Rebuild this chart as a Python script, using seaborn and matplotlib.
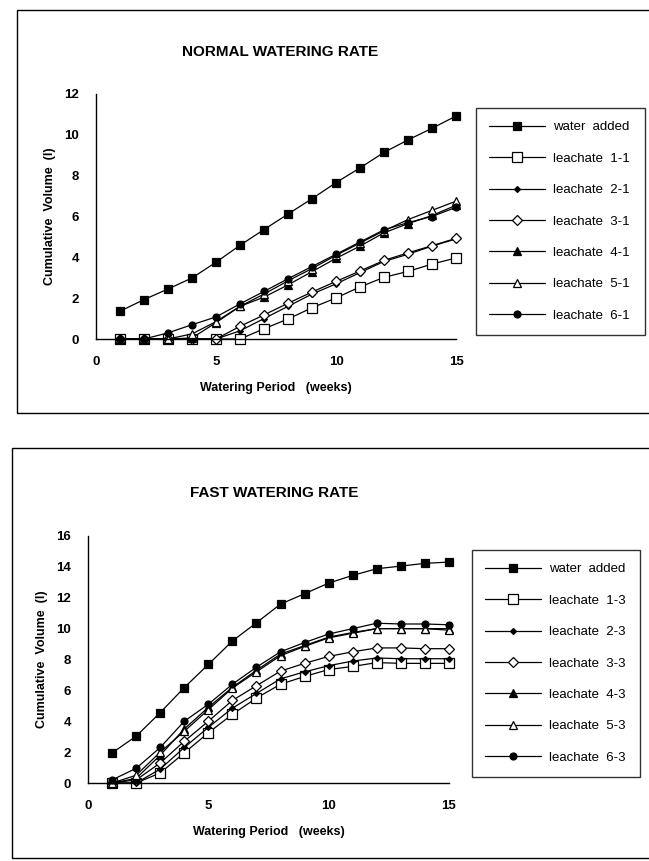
import numpy as np
import pandas as pd
import seaborn as sns
import matplotlib.pyplot as plt
from matplotlib.patches import Rectangle

weeks = list(range(1, 16))

# normal watering rate (l)
normal_water = [1.36, 1.93, 2.45, 2.99, 3.76, 4.59, 5.36, 6.12, 6.87, 7.66, 8.38, 9.14, 9.75, 10.32, 10.92]
normal_l1 = [0, 0, 0, 0, 0, 0, 0.5, 0.98, 1.53, 2.01, 2.55, 3.02, 3.31, 3.67, 3.97]
normal_l2 = [0, 0, 0, 0, 0, 0.4, 1.0, 1.6, 2.2, 2.7, 3.25, 3.8, 4.15, 4.55, 4.9]
normal_l3 = [0, 0, 0, 0, 0, 0.62, 1.18, 1.75, 2.3, 2.82, 3.33, 3.85, 4.22, 4.57, 4.93]
normal_l4 = [0, 0, 0, 0.05, 0.8, 1.6, 2.05, 2.65, 3.3, 3.95, 4.55, 5.2, 5.65, 6.05, 6.55]
normal_l5 = [0, 0, 0, 0.25, 0.85, 1.6, 2.2, 2.85, 3.45, 4.1, 4.7, 5.3, 5.85, 6.3, 6.75]
normal_l6 = [0, 0, 0.3, 0.7, 1.08, 1.72, 2.33, 2.95, 3.55, 4.15, 4.75, 5.35, 5.7, 6.0, 6.45]

# fast watering rate (l)
fast_water = [1.95, 3.03, 4.56, 6.18, 7.68, 9.2, 10.38, 11.59, 12.26, 12.95, 13.45, 13.88, 14.05, 14.23, 14.31]
fast_l1 = [0, 0, 0.65, 1.95, 3.25, 4.45, 5.5, 6.4, 6.9, 7.35, 7.55, 7.8, 7.75, 7.75, 7.75]
fast_l2 = [0, 0, 0.9, 2.3, 3.6, 4.85, 5.8, 6.75, 7.2, 7.6, 7.9, 8.1, 8.05, 8.05, 8.05]
fast_l3 = [0, 0.2, 1.3, 2.7, 4.0, 5.35, 6.3, 7.25, 7.75, 8.2, 8.5, 8.75, 8.75, 8.7, 8.7]
fast_l4 = [0, 0.3, 1.8, 3.5, 4.9, 6.2, 7.3, 8.35, 8.9, 9.45, 9.75, 10.0, 10.0, 10.0, 10.0]
fast_l5 = [0, 0.5, 2.0, 3.35, 4.75, 6.15, 7.2, 8.25, 8.85, 9.4, 9.7, 10.0, 10.0, 10.0, 9.9]
fast_l6 = [0.2, 0.95, 2.3, 4.0, 5.1, 6.4, 7.5, 8.5, 9.1, 9.65, 10.0, 10.35, 10.3, 10.3, 10.25]

normal_labels = ["water  added", "leachate  1-1", "leachate  2-1", "leachate  3-1",
                 "leachate  4-1", "leachate  5-1", "leachate  6-1"]
fast_labels = ["water  added", "leachate  1-3", "leachate  2-3", "leachate  3-3",
               "leachate  4-3", "leachate  5-3", "leachate  6-3"]

# marker, size, face
styles = [("s", 5.5, "black"), ("s", 6.5, "white"), ("D", 3, "black"), ("D", 5.5, "white"),
          ("^", 5.5, "black"), ("^", 6, "white"), ("o", 5, "black")]

sns.set_theme(style="white")
plt.rcParams['font.family'] = ['Liberation Sans', 'DejaVu Sans']
plt.rcParams['text.color'] = 'black'
plt.rcParams['axes.labelcolor'] = 'black'

W, H = 649, 861
fig = plt.figure(figsize=(W / 100, H / 100), dpi=100)


def px_axes(x0, x1, y0, y1):
    # pixel box -> figure axes (y measured from the top)
    return fig.add_axes([x0 / W, (H - y1) / H, (x1 - x0) / W, (y1 - y0) / H])


def panel(ax, series, labels, ymax, title, title_xy, legend_box):
    for vals, lab, (m, ms, fc) in zip(series, labels, styles):
        sns.lineplot(x=weeks, y=vals, ax=ax, color="black", linewidth=0.9,
                     marker=m, markersize=ms, markerfacecolor=fc,
                     markeredgecolor="black", markeredgewidth=0.9,
                     label=lab, clip_on=False)
    ax.set_xlim(0, 15)
    ax.set_ylim(0, ymax)
    ax.set_xticks([0, 5, 10, 15])
    ax.set_yticks(range(0, ymax + 1, 2))
    for s in ["top", "right"]:
        ax.spines[s].set_visible(False)
    for s in ["left", "bottom"]:
        ax.spines[s].set_color("black")
        ax.spines[s].set_linewidth(1.0)
    ax.tick_params(direction="inout", length=6, width=0.9, colors="black",
                   labelsize=9.5, pad=9)
    for t in ax.get_xticklabels() + ax.get_yticklabels():
        t.set_fontweight("bold")
    ax.set_xlabel("Watering Period   (weeks)", fontsize=9, fontweight="bold", labelpad=10)
    ax.set_ylabel("Cumulative  Volume  (l)", fontsize=9, fontweight="bold", labelpad=6)
    fig.text(title_xy[0] / W, 1 - title_xy[1] / H, title, ha="center", va="center",
             fontsize=11, fontweight="bold")
    x0, y0, x1, y1 = legend_box
    leg = ax.legend(loc="upper left",
                    bbox_to_anchor=(x0 / W, 1 - y1 / H, (x1 - x0) / W, (y1 - y0) / H),
                    bbox_transform=fig.transFigure, mode="expand",
                    fontsize=9.5, handlelength=4.2, handletextpad=0.6,
                    labelspacing=1.45, borderpad=1.0, fancybox=False,
                    frameon=True, edgecolor="black", borderaxespad=0)
    leg.get_frame().set_linewidth(1.0)


ax1 = px_axes(96, 456, 94, 339)
panel(ax1, [normal_water, normal_l1, normal_l2, normal_l3, normal_l4, normal_l5, normal_l6],
      normal_labels, 12, "NORMAL WATERING RATE", (280, 52), (476, 108, 645, 333))

ax2 = px_axes(88, 449, 536, 783)
panel(ax2, [fast_water, fast_l1, fast_l2, fast_l3, fast_l4, fast_l5, fast_l6],
      fast_labels, 16, "FAST WATERING RATE", (274, 493), (472, 550, 640, 778))

# outer frames around each chart
fig.patches.append(Rectangle((17 / W, 1 - 413 / H), 700 / W, 403 / H, fill=False,
                             edgecolor="black", linewidth=1.0, transform=fig.transFigure))
fig.patches.append(Rectangle((12 / W, 1 - 858 / H), 700 / W, 410 / H, fill=False,
                             edgecolor="black", linewidth=1.0, transform=fig.transFigure))

fig.savefig("out.png", dpi=100)
